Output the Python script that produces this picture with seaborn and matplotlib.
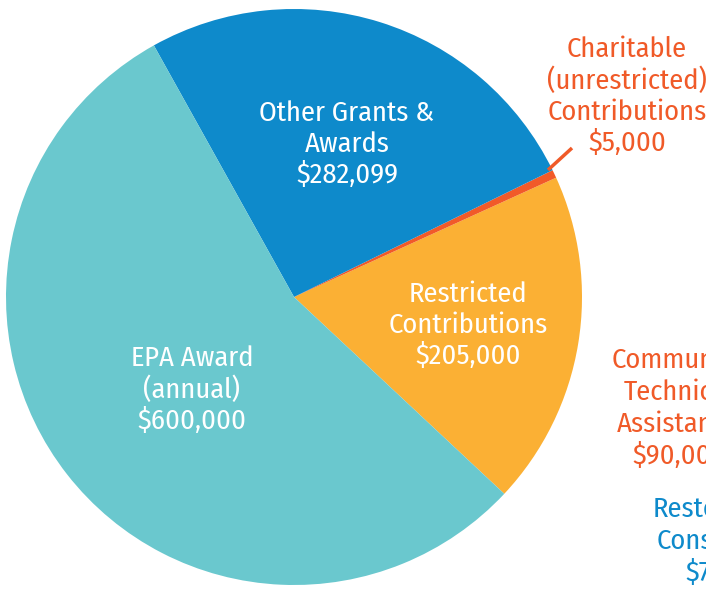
import matplotlib
matplotlib.use("Agg")
import matplotlib.pyplot as plt
import seaborn as sns

categories = ["Restricted\nContributions", "Charitable\n(unrestricted)\nContributions", "Other Grants &\nAwards", "EPA Award\n(annual)"]
values = [205000, 5000, 282099, 600000]
colors = ["#FBB034", "#F15A29", "#0E8ACB", "#6AC8CE"]

sns.set_theme(style="white")
plt.rcParams['font.family'] = ['Fira Sans Condensed', 'DejaVu Sans']

W, H = 706, 589
fig = plt.figure(figsize=(W / 100, H / 100), dpi=100)
ax = fig.add_axes([0, 0, 1, 1])

cx, cy, r = 294, H - 297, 288
ax.pie(values, colors=colors, startangle=-43.1, counterclock=True,
       center=(cx, cy), radius=r, wedgeprops=dict(linewidth=0),
       frame=True)
ax.set_xlim(0, W)
ax.set_ylim(0, H)
ax.set_aspect('equal')
ax.axis('off')

def fmt(v):
    return "${:,}".format(v)

fs = 20.5
ls = 1.2
fw = 'normal'
def Y(y):
    return H - y

# Inside labels
ax.text(347, Y(144), categories[2] + "\n" + fmt(values[2]), ha='center', va='center',
        color='white', fontsize=fs, linespacing=ls, fontweight=fw)
ax.text(468, Y(325), categories[0] + "\n" + fmt(values[0]), ha='center', va='center',
        color='white', fontsize=fs, linespacing=ls, fontweight=fw)
ax.text(192, Y(390), categories[3] + "\n" + fmt(values[3]), ha='center', va='center',
        color='white', fontsize=fs, linespacing=ls, fontweight=fw)

# Charitable label outside with leader line
ax.text(627, Y(96), categories[1] + "\n" + fmt(values[1]), ha='center', va='center',
        color='#F05A28', fontsize=fs, linespacing=ls, fontweight=fw)
ax.plot([548, 572], [Y(170), Y(148)], color='#F05A28', lw=2.5, solid_capstyle='butt')

# Cut-off labels at the right edge
other_lines = ["Community", "Technical", "Assistance", "$90,000"]
other_x = [612, 624, 617, 632]
other_y = [360, 392, 424, 456]
for t, x, y in zip(other_lines, other_x, other_y):
    ax.text(x, Y(y), t, ha='left', va='center', color='#F05A28', fontsize=fs, fontweight=fw)

resto_lines = ["Restoration", "Consulting", "$75,000"]
resto_x = [653, 657, 685]
resto_y = [509, 541, 573]
for t, x, y in zip(resto_lines, resto_x, resto_y):
    ax.text(x, Y(y), t, ha='left', va='center', color='#0E8ACB', fontsize=fs, fontweight=fw)

fig.savefig("out.png", dpi=100)
